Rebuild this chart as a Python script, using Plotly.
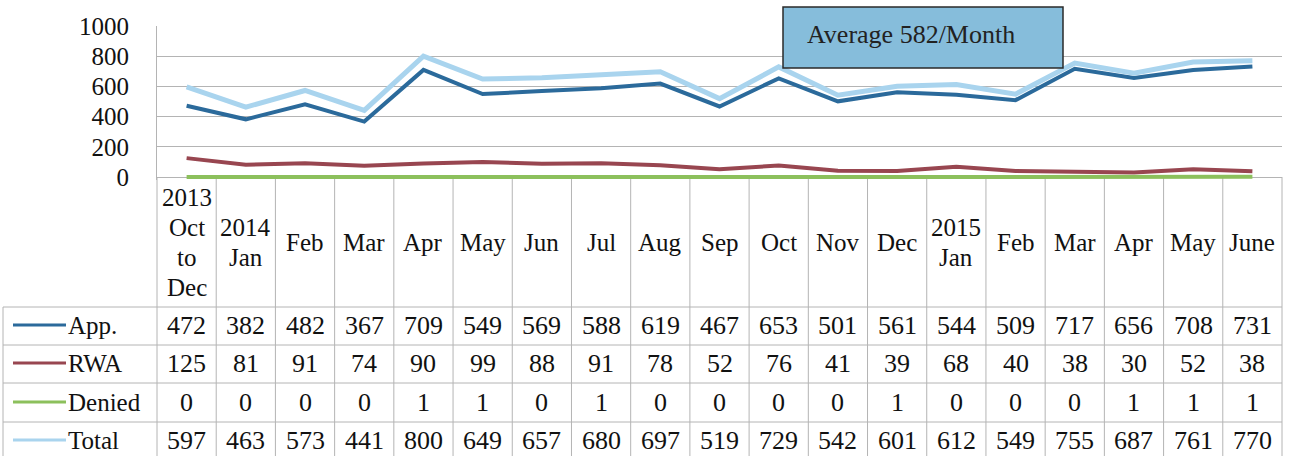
import plotly.graph_objects as go

# ---------------- data ----------------
months = ["2013\nOct\nto\nDec", "2014\nJan", "Feb", "Mar", "Apr", "May", "Jun", "Jul",
          "Aug", "Sep", "Oct", "Nov", "Dec", "2015\nJan", "Feb", "Mar", "Apr", "May", "June"]
app = [472, 382, 482, 367, 709, 549, 569, 588, 619, 467, 653, 501, 561, 544, 509, 717, 656, 708, 731]
rwa = [125, 81, 91, 74, 90, 99, 88, 91, 78, 52, 76, 41, 39, 68, 40, 38, 30, 52, 38]
denied = [0, 0, 0, 0, 1, 1, 0, 1, 0, 0, 0, 0, 1, 0, 0, 0, 1, 1, 1]
total = [597, 463, 573, 441, 800, 649, 657, 680, 697, 519, 729, 542, 601, 612, 549, 755, 687, 761, 770]
series_names = ["App.", "RWA", "Denied", "Total"]
y_ticks = [0, 200, 400, 600, 800, 1000]
note_text = "Average 582/Month"

# ---------------- style ----------------
colors = ["#2b6a9b", "#984650", "#8cc05c", "#a9d4ee"]
widths = [4, 4, 4, 5]
FONT = "'Liberation Serif', 'Times New Roman', Times, serif"
TXT = "#111111"
GRID = "#b4b4b4"

W, H = 1290, 456
TOP_PX, ZERO_PX = 26, 177          # pixel rows of 1000 and 0
EXTRA = 3                          # px of plot area kept below zero so the 0-line is not clipped
L, R = 157, 8
T = TOP_PX
B = H - ZERO_PX - EXTRA
PW, PH = W - L - R, H - T - B
y_top = y_ticks[-1]
y_bottom = -EXTRA * y_top / (ZERO_PX - TOP_PX)


def px2x(px):
    return (px - L) / PW


def py2y(py):
    return (H - B - py) / PH


n = len(months)
xs = list(range(n))
series = [app, rwa, denied, total]

fig = go.Figure()
for name, vals, c, w in zip(series_names, series, colors, widths):
    fig.add_trace(go.Scatter(x=xs, y=vals, mode="lines", name=name,
                             line=dict(color=c, width=w), showlegend=False,
                             hoverinfo="skip"))

shapes = []
annotations = []

# table grid
line_style = dict(color=GRID, width=1)
row_bounds = [307, 345, 383, 422, 460]
for k in range(n + 1):
    shapes.append(dict(type="line", xref="paper", yref="paper", layer="below",
                       x0=k / n, x1=k / n, y0=py2y(ZERO_PX), y1=py2y(460), line=line_style))
shapes.append(dict(type="line", xref="paper", yref="paper", layer="below",
                   x0=px2x(3), x1=px2x(3), y0=py2y(307), y1=py2y(460), line=line_style))
for rb in row_bounds[:-1]:
    shapes.append(dict(type="line", xref="paper", yref="paper", layer="below",
                       x0=px2x(3), x1=1, y0=py2y(rb), y1=py2y(rb), line=line_style))

# header labels
for i, m in enumerate(months):
    parts = m.split("\n")
    nl = len(parts)
    centre = 242
    step = 30
    for j, p in enumerate(parts):
        py = centre + (j - (nl - 1) / 2) * step
        annotations.append(dict(x=i, xref="x", y=py2y(py), yref="paper", text=p,
                                showarrow=False, xanchor="center", yanchor="middle",
                                font=dict(family=FONT, size=25, color=TXT)))

# rows
row_centres = [325, 363, 402, 440]
for r, (name, vals, c) in enumerate(zip(series_names, series, colors)):
    cy = row_centres[r]
    shapes.append(dict(type="line", xref="paper", yref="paper",
                       x0=px2x(13), x1=px2x(66), y0=py2y(cy), y1=py2y(cy),
                       line=dict(color=c, width=3)))
    annotations.append(dict(x=px2x(66), xref="paper", y=py2y(cy), yref="paper", text=name,
                            showarrow=False, xanchor="left", yanchor="middle",
                            font=dict(family=FONT, size=25, color=TXT)))
    for i, v in enumerate(vals):
        annotations.append(dict(x=i, xref="x", y=py2y(cy), yref="paper", text=str(v),
                                showarrow=False, xanchor="center", yanchor="middle",
                                font=dict(family=FONT, size=26, color=TXT)))

# average box
shapes.append(dict(type="rect", xref="paper", yref="paper",
                   x0=px2x(783), x1=px2x(1063), y0=py2y(68), y1=py2y(7),
                   fillcolor="#86bddb", line=dict(color="#2a2a2a", width=1.5), layer="above"))
annotations.append(dict(x=px2x(805), xref="paper", y=py2y(35), yref="paper", text=note_text,
                        showarrow=False, xanchor="left", yanchor="middle",
                        font=dict(family=FONT, size=26, color="#222222")))

fig.update_layout(
    width=W, height=H,
    margin=dict(l=L, r=R, t=T, b=B, pad=0),
    paper_bgcolor="white", plot_bgcolor="white",
    shapes=shapes, annotations=annotations,
    xaxis=dict(range=[-0.5, n - 0.5], showticklabels=False, showgrid=False,
               zeroline=False, showline=False, fixedrange=True),
    yaxis=dict(range=[y_bottom, y_top], tickvals=y_ticks, ticktext=[str(t) for t in y_ticks],
               gridcolor=GRID, gridwidth=1, zeroline=False,
               showline=True, linecolor=GRID, linewidth=1,
               ticks="outside", ticklen=0, ticklabelstandoff=22,
               tickfont=dict(family=FONT, size=25, color=TXT), fixedrange=True),
)

fig.write_html("out.html", config={"displayModeBar": False},
               post_script="document.body.style.margin='0';document.body.style.overflow='hidden';")
